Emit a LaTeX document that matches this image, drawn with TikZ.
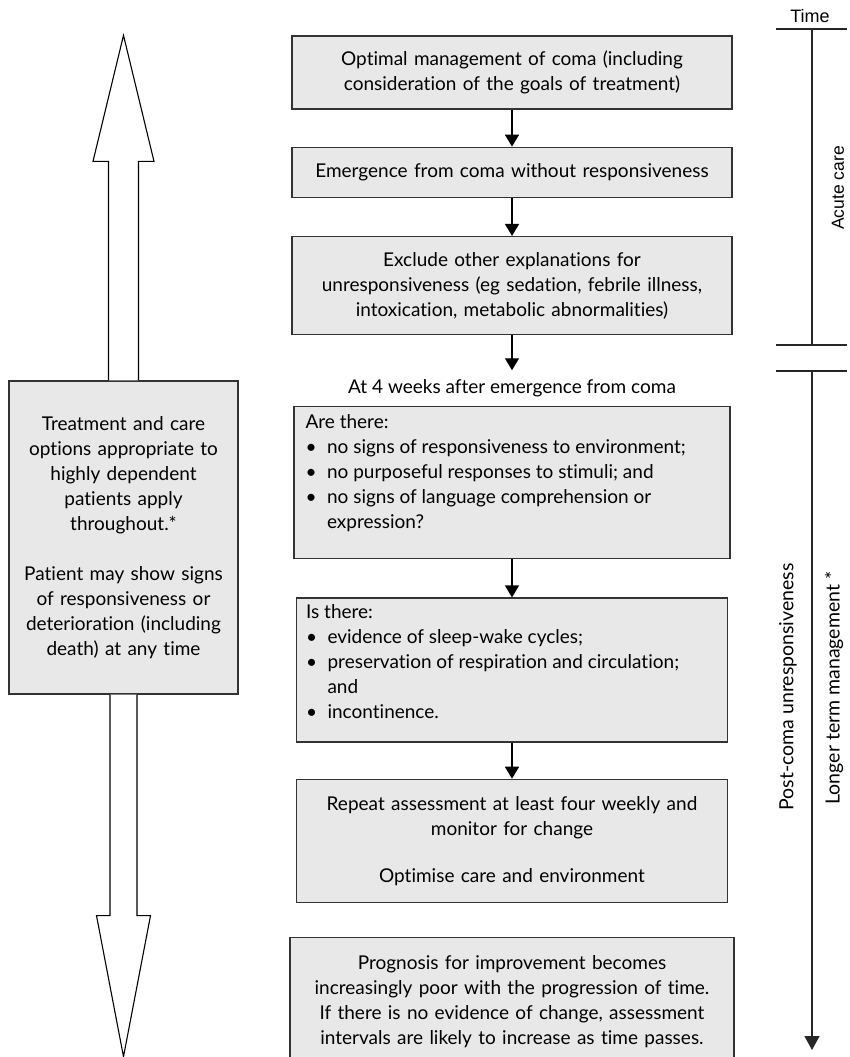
\documentclass[tikz,border=0pt]{standalone}
\usepackage{fontspec}
\setmainfont{Lato}[Ligatures={NoCommon}]
\newfontfamily\axisfont{Liberation Sans}
\usetikzlibrary{arrows.meta, positioning}
\definecolor{boxgray}{HTML}{E8E8E8}
\definecolor{edgegray}{HTML}{333333}
\tikzstyle{stage} = [rectangle, draw=edgegray, line width=1.3pt, fill=boxgray, inner xsep=10pt, inner ysep=6pt, align=center, font=\fontsize{19}{25}\selectfont]
\tikzstyle{listtext} = [inner sep=0pt, align=left, anchor=north west, font=\fontsize{19}{25}\selectfont]
\tikzstyle{arrow} = [line width=1.4pt, -{Triangle[width=14pt,length=12pt]}]
\tikzstyle{hollow} = [draw=black, line width=1.1pt, fill=white, line join=miter]
\tikzstyle{axis} = [line width=1.2pt, draw=black!85]
\tikzstyle{phase} = [rotate=90, font=\fontsize{19.5}{22}\selectfont]
\newcommand{\itembul}{\makebox[21.5pt][l]{\textbullet}}

\begin{document}
\begin{tikzpicture}[x=1pt, y=-1pt, node distance=37pt]
\useasboundingbox (0,0) rectangle (849,1057);

% Main pathway
\node (optimal) [stage, text width=420pt, minimum height=73pt] at (512,72.5) {Optimal management of coma (including\\consideration of the goals of treatment)};
\node (emerge) [stage, text width=420pt, minimum height=50pt, below=of optimal] {Emergence from coma without responsiveness};
\node (exclude) [stage, text width=420pt, minimum height=98pt, below=38pt of emerge] {Exclude other explanations for\\unresponsiveness (eg sedation, febrile illness,\\intoxication, metabolic abnormalities)};
\node (fourweeks) [below=35pt of exclude, inner xsep=0pt, inner ysep=9pt, font=\fontsize{19}{25}\selectfont] {At 4 weeks after emergence from coma};
\node (arethere) [stage, minimum width=436pt, minimum height=152pt, below=0pt of fourweeks] {};
\node (arethere-text) [listtext] at ([xshift=12pt, yshift=-8.5pt]arethere.north west) {Are there:\\
\itembul no signs of responsiveness to environment;\\
\itembul no purposeful responses to stimuli; and\\
\itembul no signs of language comprehension or\\
\hspace*{21.5pt}expression?};
\node (isthere) [stage, minimum width=431pt, minimum height=144pt, below=38pt of arethere] {};
\node (isthere-text) [listtext] at ([xshift=10pt, yshift=-7pt]isthere.north west) {Is there:\\
\itembul evidence of sleep-wake cycles;\\
\itembul preservation of respiration and circulation;\\
\hspace*{21.5pt}and\\
\itembul incontinence.};
\node (repeat) [stage, text width=411pt, minimum height=123pt, below=36pt of isthere] {Repeat assessment at least four weekly and\\monitor for change\\[22pt]Optimise care and environment};
\node (prognosis) [stage, text width=424pt, minimum height=127pt, below=34pt of repeat] {Prognosis for improvement becomes\\increasingly poor with the progression of time.\\If there is no evidence of change, assessment\\intervals are likely to increase as time passes.};

% Arrows for main pathway
\draw [arrow] (optimal) -- (emerge);
\draw [arrow] (emerge) -- (exclude);
\draw [arrow] (exclude) -- (fourweeks);
\draw [arrow] (arethere) -- (isthere);
\draw [arrow] (isthere) -- (repeat);

% Care box with open arrows
\node (care) [stage, text width=209pt, minimum height=313pt] at (123.5,537.5) {Treatment and care\\options appropriate to\\highly dependent\\patients apply\\throughout.*\\[25pt]Patient may show signs\\of responsiveness or\\deterioration (including\\death) at any time};
\draw [hollow] ([xshift=-15pt]care.north) -- ++(0,-219) -- ++(-15.5,0) -- ++(30.5,-126) -- ++(30.5,126) -- ++(-15.5,0) -- ++(0,219);
\draw [hollow] ([xshift=-13.5pt]care.south) -- ++(0,221) -- ++(-13.5,0) -- ++(27,141) -- ++(27,-141) -- ++(-13.5,0) -- ++(0,-221);

% Time axis
\node (time) [font=\axisfont\fontsize{18}{20}\selectfont] at (810,16) {Time};
\coordinate (axtop) at (812,29);
\coordinate (acuteend) at (812,345);
\coordinate (longstart) at (812,371);
\coordinate (axend) at (812,1050);
\draw [axis] ([xshift=-36pt]axtop) -- ([xshift=35pt]axtop);
\draw [axis] ([xshift=-36pt]acuteend) -- ([xshift=35pt]acuteend);
\draw [axis] ([xshift=-36pt]longstart) -- ([xshift=35pt]longstart);
\draw [axis] (axtop) -- (acuteend);
\draw [axis, -{Triangle[width=15pt,length=14pt]}] (longstart) -- (axend);

% Labels
\node (acute) [phase, font=\axisfont\fontsize{17.5}{20}\selectfont] at (838,188) {Acute care};
\node (postcoma) [phase] at (788,687) {Post-coma unresponsiveness};
\node (longer) [phase] at (834,688) {Longer term management *};

\end{tikzpicture}
\end{document}
